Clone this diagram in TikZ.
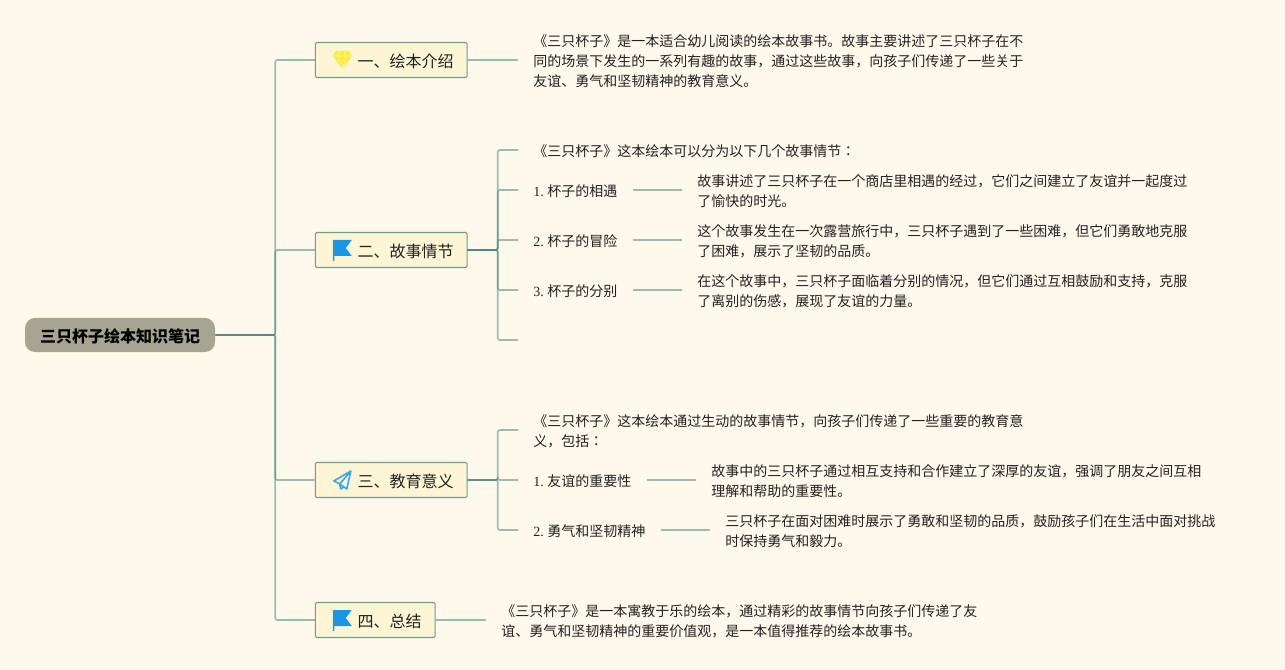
\documentclass[tikz,border=0pt]{standalone}
\usepackage{fontspec}
\setmainfont{Noto Sans CJK JP}
\newfontfamily\numfont{Liberation Serif}
\newcommand{\numlab}[1]{\makebox[10.5pt][l]{\numfont #1}}
\newcommand{\dn}[1]{\raisebox{-.75pt}[\height][\depth]{#1}}
\definecolor{pagebg}{HTML}{FFF9EB}
\definecolor{boxfill}{HTML}{FDF5D3}
\definecolor{boxline}{HTML}{6F9E8D}
\definecolor{connc}{HTML}{4A8A7A}
\definecolor{rootfill}{HTML}{A8A493}
\definecolor{inkc}{HTML}{222222}
\definecolor{bluefl}{HTML}{1A97E0}
\definecolor{yellowd}{HTML}{FFE93B}
\tikzset{
  conn/.style={draw=connc,line width=1.2pt,draw opacity=.55,rounded corners=1.5pt},
  rootbox/.style={fill=rootfill,rounded corners=7.5pt,minimum width=142.5pt,minimum height=25.5pt,inner sep=0pt,
    font=\fontsize{12}{15}\selectfont\bfseries,text=black},
  topicbox/.style={draw=boxline,fill=boxfill,line width=.8pt,rounded corners=1pt,anchor=west,inner xsep=10.2pt,inner ysep=0pt,
    minimum height=26.25pt,font=\fontsize{12}{15}\selectfont,text=inkc},
  bodytext/.style={anchor=west,inner xsep=11.25pt,inner ysep=0pt,align=left,
    font=\fontsize{10.5}{15}\selectfont,text=inkc},
}
\newcommand{\pad}{\hspace{21.5pt}}
\begin{document}
\begin{tikzpicture}[x=.75pt,y=-.75pt]
\fill[pagebg] (0,0) rectangle (1285,670);
\useasboundingbox (0,0) rectangle (1285,670);
\node[rootbox] (root) at (120,335) {\dn{三只杯子绘本知识笔记}};
\node[topicbox] (b1) at (314.8,60) {\dn{\pad 一、绘本介绍}};
\node[topicbox] (b2) at (314.8,250) {\dn{\pad 二、故事情节}};
\node[topicbox] (b3) at (314.8,480) {\dn{\pad 三、教育意义}};
\node[topicbox] (b4) at (314.8,620) {\dn{\pad 四、总结}};
% icons
\begin{scope}[shift={(b1.west)}]
  \fill[yellowd] (21,-9) -- (34,-9) -- (37,-4) -- (27.5,9) -- (18,-4) -- cycle;
  \draw[boxfill,line width=.4pt] (18,-4) -- (37,-4) (23,-4) -- (27.5,9) -- (32,-4) (23,-4) -- (25,-9) (32,-4) -- (30,-9);
\end{scope}
\begin{scope}[shift={(b2.west)}]
  \fill[bluefl] (18,-10) -- (37,-10) -- (31,-2) -- (37,6) -- (19.5,6) -- (19.5,11) -- (18,11) -- cycle;
\end{scope}
\begin{scope}[shift={(b3.west)}]
  \draw[bluefl!85!white,line width=1.2pt,line join=round] (36,-9) -- (19,1) -- (25,4) -- (36,-9) -- (32,9) -- (25,4) -- (26,9) -- (29,7);
\end{scope}
\begin{scope}[shift={(b4.west)}]
  \fill[bluefl] (18,-10) -- (37,-10) -- (31,-2) -- (37,6) -- (19.5,6) -- (19.5,11) -- (18,11) -- cycle;
\end{scope}
% text (nodes sit 1px below their connectors)
\node[bodytext] (t1) at (518,61) {《三只杯子》是一本适合幼儿阅读的绘本故事书。故事主要讲述了三只杯子在不\\同的场景下发生的一系列有趣的故事，通过这些故事，向孩子们传递了一些关于\\友谊、勇气和坚韧精神的教育意义。};
\node[bodytext] (t2a) at (518,151) {《三只杯子》这本绘本可以分为以下几个故事情节：};
\node[bodytext] (t2b) at (518,191) {\numlab{1.}杯子的相遇};
\node[bodytext] (t2c) at (518,241) {\numlab{2.}杯子的冒险};
\node[bodytext] (t2d) at (518,291) {\numlab{3.}杯子的分别};
\coordinate (t2e) at (518,341);
\node[bodytext] (d2b) at (682,191) {故事讲述了三只杯子在一个商店里相遇的经过，它们之间建立了友谊并一起度过\\了愉快的时光。};
\node[bodytext] (d2c) at (682,241) {这个故事发生在一次露营旅行中，三只杯子遇到了一些困难，但它们勇敢地克服\\了困难，展示了坚韧的品质。};
\node[bodytext] (d2d) at (682,291) {在这个故事中，三只杯子面临着分别的情况，但它们通过互相鼓励和支持，克服\\了离别的伤感，展现了友谊的力量。};
\node[bodytext] (t3a) at (518,431) {《三只杯子》这本绘本通过生动的故事情节，向孩子们传递了一些重要的教育意\\义，包括：};
\node[bodytext] (t3b) at (518,481) {\numlab{1.}友谊的重要性};
\node[bodytext] (t3c) at (518,531) {\numlab{2.}勇气和坚韧精神};
\node[bodytext] (d3b) at (696,481) {故事中的三只杯子通过相互支持和合作建立了深厚的友谊，强调了朋友之间互相\\理解和帮助的重要性。};
\node[bodytext] (d3c) at (710,531) {三只杯子在面对困难时展示了勇敢和坚韧的品质，鼓励孩子们在生活中面对挑战\\时保持勇气和毅力。};
\node[bodytext] (t4) at (486,621) {《三只杯子》是一本寓教于乐的绘本，通过精彩的故事情节向孩子们传递了友\\谊、勇气和坚韧精神的重要价值观，是一本值得推荐的绘本故事书。};
% connectors
\foreach \k in {b1,b2,b3,b4}{
  \draw[conn] (root.east) -- ++(60,0) |- (\k.west);
}
\draw[conn] (b1.east) -- ([yshift=.75pt]t1.west);
\draw[conn] (b4.east) -- ([yshift=.75pt]t4.west);
\foreach \k in {t2a,t2b,t2c,t2d}{
  \draw[conn] (b2.east) -- ++(30,0) |- ([yshift=.75pt]\k.west);
}
\draw[conn] (b2.east) -- ++(30,0) |- ([yshift=.75pt]t2e);
\foreach \k in {t3a,t3b,t3c}{
  \draw[conn] (b3.east) -- ++(30,0) |- ([yshift=.75pt]\k.west);
}
\draw[conn] ([yshift=.75pt]t2b.east) -- ([yshift=.75pt]d2b.west);
\draw[conn] ([yshift=.75pt]t2c.east) -- ([yshift=.75pt]d2c.west);
\draw[conn] ([yshift=.75pt]t2d.east) -- ([yshift=.75pt]d2d.west);
\draw[conn] ([yshift=.75pt]t3b.east) -- ([yshift=.75pt]d3b.west);
\draw[conn] ([yshift=.75pt]t3c.east) -- ([yshift=.75pt]d3c.west);
\end{tikzpicture}
\end{document}
